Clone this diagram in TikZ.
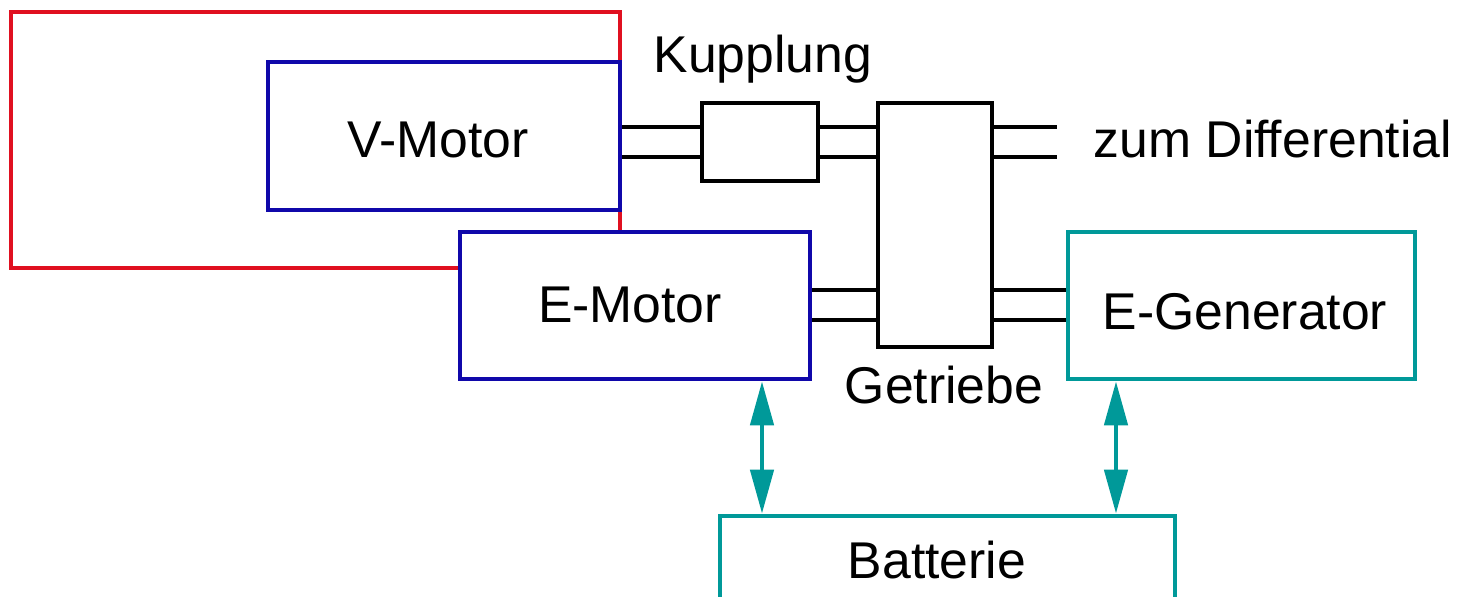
\documentclass[tikz,border=0pt]{standalone}
\usepackage{fontspec}
\setmainfont{Liberation Sans}
\usetikzlibrary{calc,arrows.meta}

\definecolor{rahmenrot}{RGB}{224,16,32}
\definecolor{motorblau}{RGB}{16,8,170}
\definecolor{elektro}{RGB}{0,153,153}

\begin{document}
\begin{tikzpicture}[
    x=0.01cm, y=-0.01cm,
    every node/.style={font=\fontsize{14.7}{18}\selectfont},
    box/.style={draw, line width=1.3pt, fill=white, inner sep=0pt},
    frame/.style={draw=rahmenrot, line width=1.3pt, minimum width=6.09cm, minimum height=2.56cm, inner sep=0pt},
    shaft/.style={line width=1.3pt},
    pfeil/.style={<->, elektro, line width=1.3pt, >={Triangle[length=4.4mm, width=2.3mm]}},
    lbl/.style={anchor=base, inner sep=0pt}
]
    \clip (0,0) rectangle (1466,597);

    % --- Hybrid frame (behind the motors) ---
    \node[frame] (hybrid) at (315.5,140) {};

    % --- Motors and generator ---
    \node[box, draw=motorblau, minimum width=3.52cm, minimum height=1.48cm] (vmot) at (444,136) {};
    \node (vmotlbl) at (438,140) {V-Motor};
    \node[box, draw=motorblau, minimum width=3.50cm, minimum height=1.47cm] (emot) at (635,305.5) {};
    \node (emotlbl) at (630,305) {E-Motor};
    \node[box, draw=elektro, minimum width=3.47cm, minimum height=1.47cm] (egen) at (1241.5,305.5) {};
    \node (egenlbl) at (1245,312) {E-Generator};
    \node[box, draw=elektro, minimum width=4.55cm, minimum height=1.60cm] (batt) at (947.5,596) {};
    \node (battlbl) at (937,560) {Batterie};

    % --- Coupling and gearbox ---
    \node[box, minimum width=1.16cm, minimum height=0.78cm] (kupp) at (760,142) {};
    \node[box, minimum width=1.14cm, minimum height=2.44cm] (getr) at (935,225) {};
    \node[lbl] (kupplbl) at (763,72) {Kupplung};
    \node[lbl] (getrlbl) at (944,403) {Getriebe};
    \node[lbl, anchor=base west] (difflbl) at (1093,157) {zum Differential};
    \coordinate (diff) at (1057,142);

    % --- Shafts ---
    \foreach \yy in {127,157} {
        \draw[shaft] (vmot.east |- 0,\yy) -- (kupp.west |- 0,\yy);
        \draw[shaft] (kupp.east |- 0,\yy) -- (getr.west |- 0,\yy);
        \draw[shaft] (getr.east |- 0,\yy) -- (diff |- 0,\yy);
    }
    \foreach \yy in {290,320} {
        \draw[shaft] (emot.east |- 0,\yy) -- (getr.west |- 0,\yy);
        \draw[shaft] (getr.east |- 0,\yy) -- (egen.west |- 0,\yy);
    }

    % --- Electric connections to the battery ---
    \draw[pfeil] (emot.south -| 762,0) -- (batt.north -| 762,0);
    \draw[pfeil] (egen.south -| 1116,0) -- (batt.north -| 1116,0);
\end{tikzpicture}
\end{document}
